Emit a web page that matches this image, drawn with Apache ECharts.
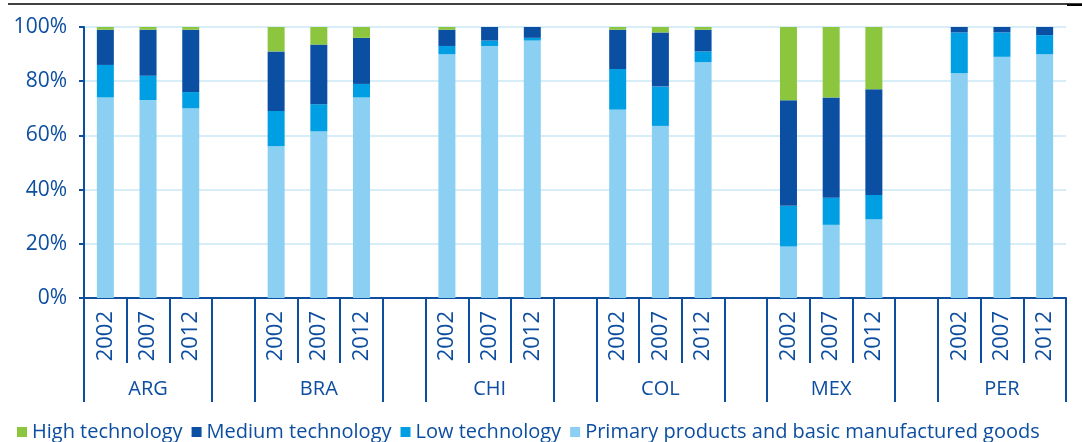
<!DOCTYPE html>
<html>
<head>
<meta charset="utf-8">
<script src="https://cdn.jsdelivr.net/npm/echarts@6/dist/echarts.min.js"></script>
<style>
  html, body { margin: 0; padding: 0; background: #fff; }
  #chart { width: 1082px; height: 442px; }
</style>
</head>
<body>
<div id="chart"></div>
<script>
var countries = ['ARG', 'BRA', 'CHI', 'COL', 'MEX', 'PER'];
var years = ['2002', '2007', '2012'];
// shares in %, country by country, 2002 / 2007 / 2012
var primary    = [74, 73, 70,  56, 61.5, 74,  90, 93, 95,  69.5, 63.5, 87,  19, 27, 29,  83, 89, 90];
var lowTech    = [12, 9, 6,    13, 10, 5,     3, 2, 1,     15, 14.5, 4,     15, 10, 9,   15, 9, 7];
var mediumTech = [13, 17, 23,  22, 22, 17,    6, 5, 4,     14.5, 20, 8,     39, 37, 39,  2, 2, 3];
var highTech   = [1, 1, 1,     9, 6.5, 4,     1, 0, 0,     1, 2, 1,         27, 26, 23,  0, 0, 0];
var yTicks = [0, 20, 40, 60, 80, 100];

var textBlue = '#0d4ea0';
var font = 'Open Sans';

// one slot per bar, plus an empty slot between countries
var yearCats = [], countryCats = [];
function withGaps(values) {
  var out = [];
  countries.forEach(function (c, i) {
    years.forEach(function (y, j) { out.push(values[i * years.length + j]); });
    if (i < countries.length - 1) out.push('-');
  });
  return out;
}
countries.forEach(function (c, i) {
  years.forEach(function (y, j) {
    yearCats.push(y);
    countryCats.push(j === 1 ? c : '');
  });
  if (i < countries.length - 1) { yearCats.push(''); countryCats.push(''); }
});

function bar(name, values, color) {
  return {
    name: name, type: 'bar', stack: 'share', barWidth: 17,
    itemStyle: { color: color },
    data: withGaps(values)
  };
}

var myChart = echarts.init(document.getElementById('chart'));
myChart.setOption({
  animation: false,
  textStyle: { fontFamily: font },
  grid: { left: 84, right: 16, top: 27, bottom: 144 },
  legend: {
    left: 17, top: 422, padding: 0,
    itemWidth: 10, itemHeight: 10, itemGap: 9,
    icon: 'rect',
    textStyle: { color: textBlue, fontSize: 20, fontFamily: font },
    data: ['High technology', 'Medium technology', 'Low technology',
           'Primary products and basic manufactured goods']
  },
  graphic: [
    { type: 'line', shape: { x1: 8, y1: 4, x2: 1082, y2: 4 },
      style: { stroke: '#000', lineWidth: 1.5 } },
    { type: 'rect', shape: { x: 1067, y: 4, width: 15, height: 2 },
      style: { fill: '#000' } }
  ],
  xAxis: [
    {
      type: 'category', data: yearCats, position: 'bottom',
      axisLine: { lineStyle: { color: textBlue, width: 2 } },
      axisTick: { show: true, interval: 0, length: 65, lineStyle: { color: textBlue, width: 2 } },
      axisLabel: { interval: 0, rotate: 90, margin: 13, color: textBlue, fontSize: 22, fontFamily: font }
    },
    {
      type: 'category', data: countryCats, position: 'bottom',
      axisLine: { show: false },
      axisTick: {
        show: true, length: 104,
        interval: function (index) { return index % 4 === 0 || index % 4 === 3; },
        lineStyle: { color: textBlue, width: 2 }
      },
      axisLabel: { interval: 0, margin: 81, color: textBlue, fontSize: 20, fontFamily: font }
    }
  ],
  yAxis: {
    type: 'value', min: yTicks[0], max: yTicks[yTicks.length - 1], interval: 20,
    axisLine: { show: true, lineStyle: { color: textBlue, width: 2 } },
    axisTick: { show: true, length: 5, lineStyle: { color: textBlue, width: 2 } },
    axisLabel: { formatter: '{value}%', margin: 17, color: textBlue, fontSize: 21, fontFamily: font },
    splitLine: { lineStyle: { color: '#cae7f6', width: 1.5 } }
  },
  series: [
    bar('Primary products and basic manufactured goods', primary, '#8bd0f2'),
    bar('Low technology', lowTech, '#009fe3'),
    bar('Medium technology', mediumTech, '#0b4fa3'),
    bar('High technology', highTech, '#8cc63f')
  ]
});
window.onresize = myChart.resize;
</script>
</body>
</html>
